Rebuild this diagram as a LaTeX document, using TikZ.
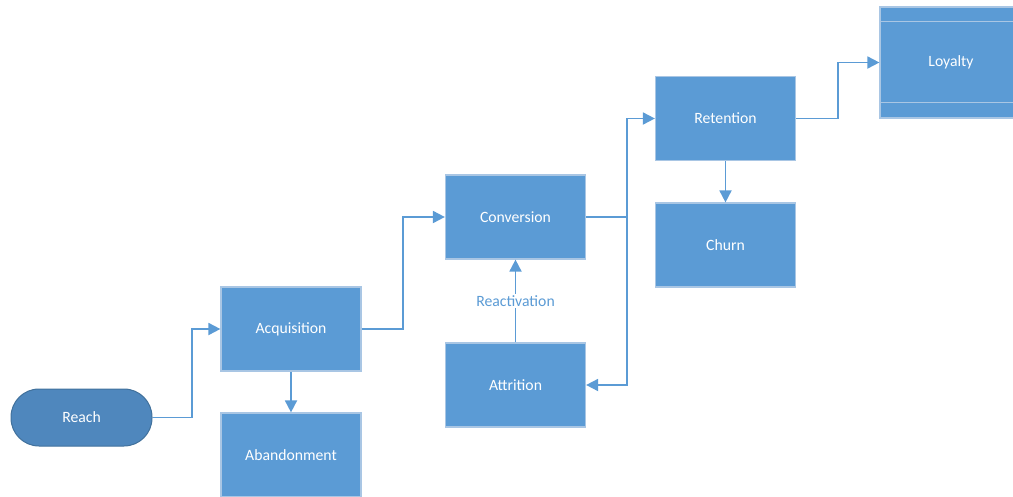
\documentclass[tikz,border=0pt]{standalone}
\usepackage{fontspec}
\setmainfont{Carlito}
\usetikzlibrary{arrows.meta,positioning,calc}

\definecolor{boxblue}{HTML}{5B9BD5}
\definecolor{boxedge}{HTML}{A9C6E4}
\definecolor{termblue}{HTML}{4F87BD}
\definecolor{termedge}{HTML}{41719C}
\definecolor{lineblue}{HTML}{5B9BD5}

\tikzset{
  stage/.style={draw=boxedge,line width=1.2pt,fill=boxblue,text=white,
    minimum width=140pt,minimum height=84pt,inner sep=0pt,font=\fontsize{15.7}{18}\selectfont},
  terminal/.style={draw=termedge,line width=1pt,fill=termblue,text=white,rounded corners=28pt,
    minimum width=141pt,minimum height=57pt,inner sep=0pt,font=\fontsize{15.7}{18}\selectfont},
  flow/.style={draw=lineblue,line width=1.8pt,-{Triangle[length=12pt,width=12pt]}},
}

\begin{document}
\begin{tikzpicture}[x=1pt,y=-1pt]
\useasboundingbox (0,0) rectangle (1013,496);
\clip (0,0) rectangle (1013,496);
% stages
\node[terminal] (reach) at (81.5,417.5) {Reach};
\node[stage] (acq) at (291,329) {Acquisition};
\node[stage] (aband) at (291,455) {Abandonment};
\node[stage] (conv) at (515.5,217) {Conversion};
\node[stage] (attr) at (515.5,385) {Attrition};
\node[stage] (ret) at (725.5,118.5) {Retention};
\node[stage] (churn) at (725.5,245) {Churn};
\node[stage,minimum width=142pt,minimum height=111pt] (loyal) at (951,62.5) {Loyalty};
\draw[boxedge,line width=1.2pt] ([yshift=-15pt]loyal.north west) -- ([yshift=-15pt]loyal.north east);
\draw[boxedge,line width=1.2pt] ([yshift=16pt]loyal.south west) -- ([yshift=16pt]loyal.south east);
% connectors
\draw[flow] (reach.east) -| (192,329) -- (acq.west);
\draw[flow] (acq.east) -| (403,217) -- (conv.west);
\draw[flow] (conv.east) -| (627,118.5) -- (ret.west);
\draw[flow] (conv.east) -| (627,385) -- (attr.east);
\draw[flow] (ret.east) -| (838,62.5) -- (loyal.west);
\draw[flow] (acq.south) -- (aband.north);
\draw[flow] (ret.south) -- (churn.north);
\draw[flow] (attr.north) -- node[fill=white,text=lineblue,inner sep=2pt,font=\fontsize{15.7}{18}\selectfont] {Reactivation} (conv.south);
\end{tikzpicture}
\end{document}
